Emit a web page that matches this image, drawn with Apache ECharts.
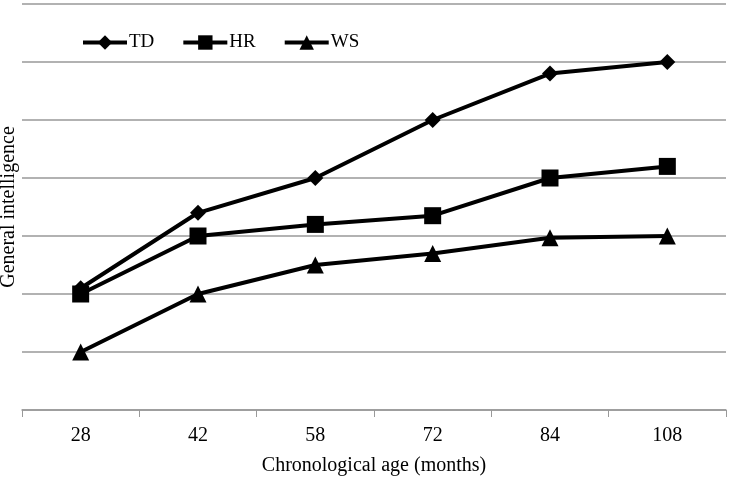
<!DOCTYPE html>
<html>
<head>
<meta charset="utf-8">
<script src="https://cdn.jsdelivr.net/npm/echarts@6/dist/echarts.min.js"></script>
<style>
  html, body { margin: 0; padding: 0; background: #fff; }
  #chart { width: 734px; height: 478px; }
</style>
</head>
<body>
<div id="chart"></div>
<script>
// ages (months)
var ages = ['28', '42', '58', '72', '84', '108'];
// general intelligence (gridline units)
var tdValues = [2.1, 3.4, 4.0, 5.0, 5.8, 6.0];
var hrValues = [2.0, 3.0, 3.2, 3.35, 4.0, 4.2];
var wsValues = [1.0, 2.0, 2.5, 2.7, 2.97, 3.0];

var fontFam = '"Liberation Serif", "DejaVu Serif", serif';
var chart = echarts.init(document.getElementById('chart'));

function lineSeries(name, data, symbol, size) {
    return {
        name: name,
        type: 'line',
        data: data,
        symbol: symbol,
        symbolSize: size,
        showAllSymbol: true,
        lineStyle: { color: '#000', width: 4 },
        itemStyle: { color: '#000', borderWidth: 0 },
        emphasis: { disabled: true },
        animation: false
    };
}

var option = {
    backgroundColor: '#fff',
    textStyle: { fontFamily: fontFam },
    grid: { left: 22, right: 8, top: 4, bottom: 68, outerBoundsMode: 'none', containLabel: false },
    legend: {
        left: 76,
        top: 28,
        itemWidth: 44,
        itemHeight: 18,
        itemGap: 27,
        lineStyle: { width: 4 },
        textStyle: { fontSize: 19, color: '#000', fontFamily: fontFam, padding: [0, 0, 0, -3] },
        data: ['TD', 'HR', 'WS']
    },
    xAxis: {
        type: 'category',
        data: ages,
        boundaryGap: true,
        name: 'Chronological age (months)',
        nameLocation: 'middle',
        nameGap: 46,
        nameTextStyle: { fontSize: 20, color: '#000', fontFamily: fontFam },
        axisLine: { lineStyle: { color: '#999', width: 1.5 } },
        axisTick: { show: true, length: 7, lineStyle: { color: '#999' } },
        axisLabel: { fontSize: 20, color: '#000', margin: 16, fontFamily: fontFam }
    },
    yAxis: {
        type: 'value',
        min: 0,
        max: 7,
        interval: 1,
        name: 'General intelligence',
        nameLocation: 'middle',
        nameGap: 3,
        nameTextStyle: { fontSize: 20, color: '#000', fontFamily: fontFam },
        axisLine: { show: false },
        axisTick: { show: false },
        axisLabel: { show: false },
        splitLine: { lineStyle: { color: '#999', width: 1.5 } }
    },
    series: [
        lineSeries('TD', tdValues, 'diamond', 16),
        lineSeries('HR', hrValues, 'rect', 17),
        lineSeries('WS', wsValues, 'triangle', 17)
    ]
};
chart.setOption(option);
</script>
</body>
</html>
